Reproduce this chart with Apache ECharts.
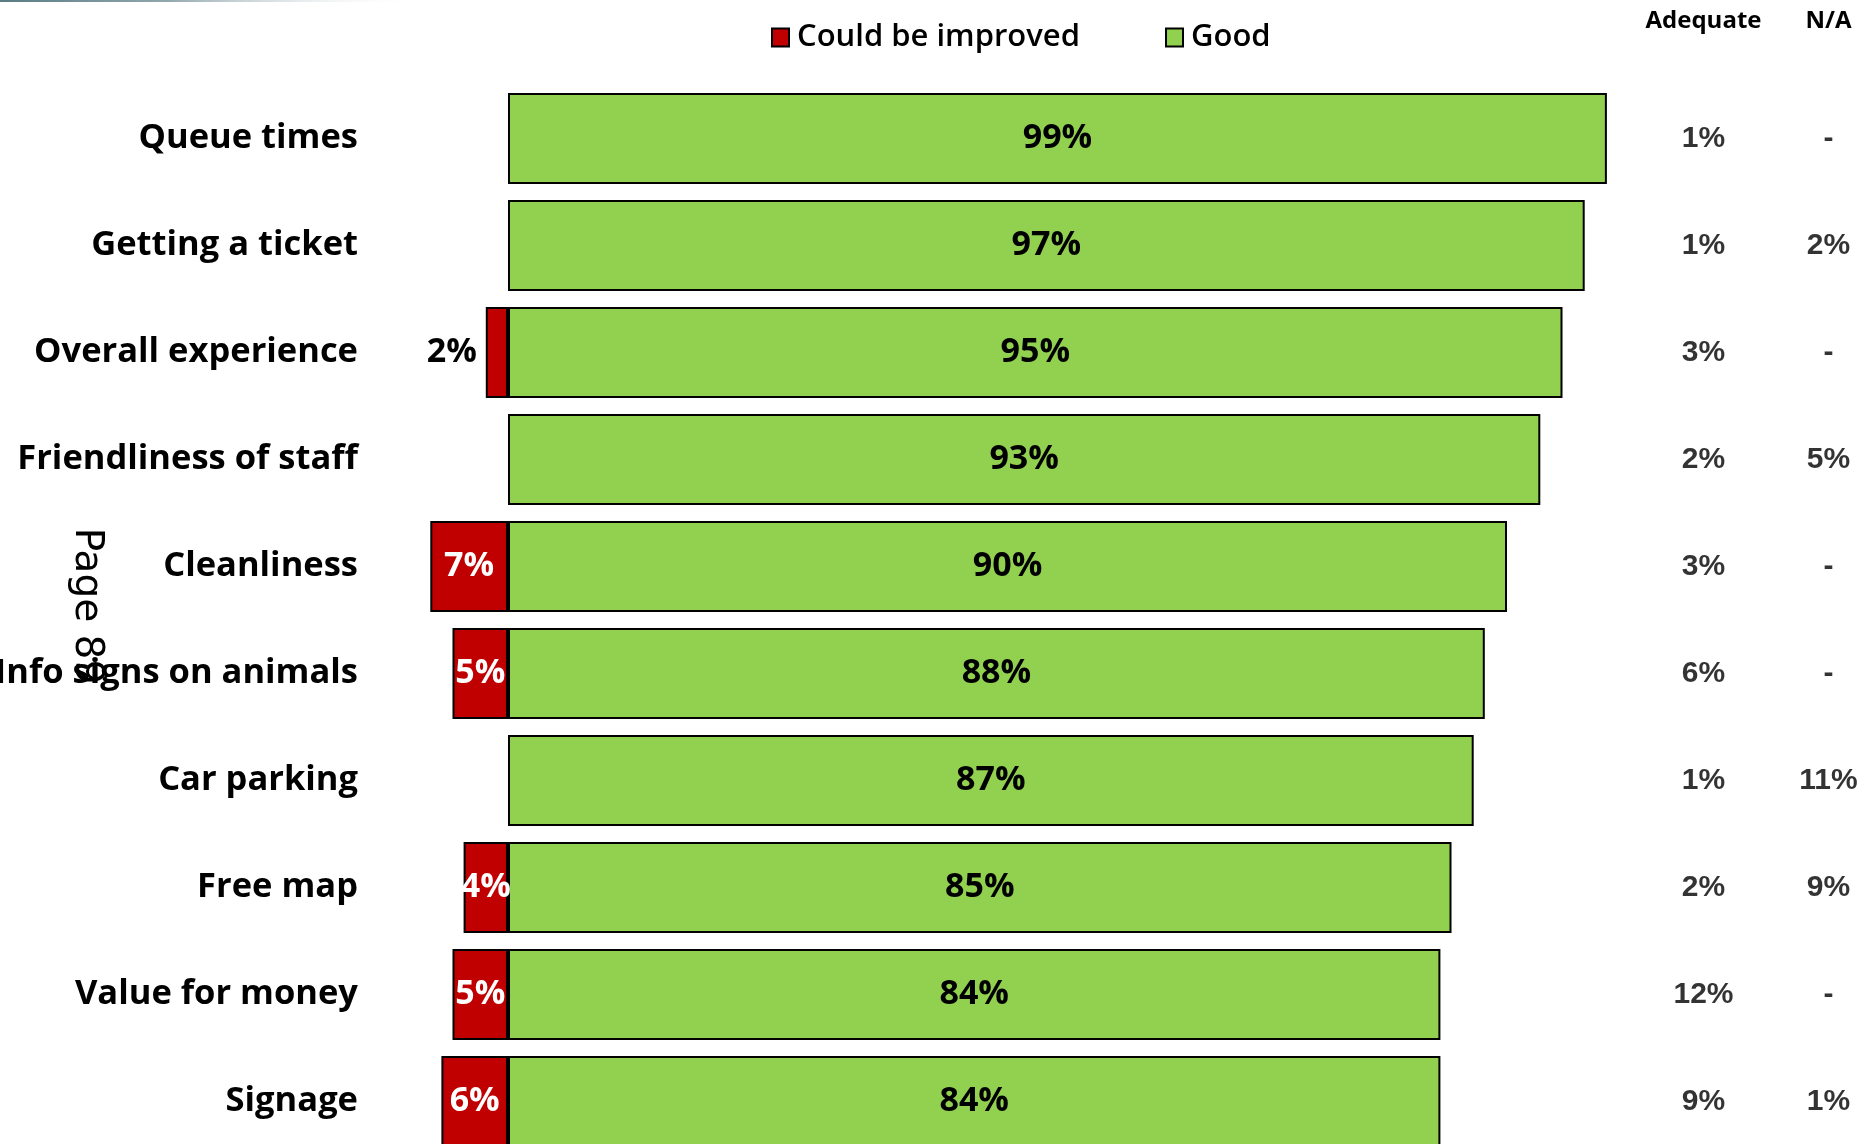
<!DOCTYPE html>
<html>
<head>
<meta charset="utf-8">
<script src="https://cdn.jsdelivr.net/npm/echarts@6/dist/echarts.min.js"></script>
<style>
  html, body { margin: 0; padding: 0; background: #ffffff; overflow: hidden; }
  /* the drawing surface runs slightly past the window so the last row is cut off at the bottom edge */
  #chart { width: 1900px; height: 1170px; }
</style>
</head>
<body>
<div id="chart"></div>
<script>
// Visitor ratings by aspect of the visit
const categories = ['Queue times', 'Getting a ticket', 'Overall experience', 'Friendliness of staff',
  'Cleanliness', 'Info signs on animals', 'Car parking', 'Free map', 'Value for money', 'Signage'];
const goodValues = [99, 97, 95, 93, 90, 88, 87, 85, 84, 84];
const improvedValues = [null, null, 2, null, 7, 5, null, 4, 5, 6];
const adequateLabels = ['1%', '1%', '3%', '2%', '3%', '6%', '1%', '2%', '12%', '9%'];
const naLabels = ['-', '2%', '-', '5%', '-', '-', '11%', '9%', '-', '1%'];
const tableColumns = ['Adequate', 'N/A'];

const RED = '#C00000';
const GREEN = '#92D050';
const FONT = '"Open Sans", "DejaVu Sans", sans-serif';
const NARROW = '"Liberation Sans Narrow", "Liberation Sans", Arial, sans-serif';

const SMALL_BAR = 3; // below this width the value sits outside the bar

const improvedData = improvedValues.map(v => {
  if (v == null) return null;
  const item = { value: -v };
  if (v < SMALL_BAR) {
    item.label = { position: 'left', distance: 9, color: '#000' };
  }
  return item;
});

const tableData = [];
adequateLabels.forEach((t, i) => tableData.push([0, i, t]));
naLabels.forEach((t, i) => tableData.push([1, i, t]));

const chart = echarts.init(document.getElementById('chart'), null, { renderer: 'canvas' });

chart.setOption({
  backgroundColor: '#ffffff',
  animation: false,
  legend: {
    data: ['Could be improved', 'Good'],
    left: 771,
    top: 22,
    padding: 0,
    itemWidth: 17,
    itemHeight: 18,
    itemGap: 85,
    icon: 'rect',
    textStyle: { fontFamily: FONT, fontSize: 31, fontWeight: 600, color: '#000', padding: [0, 0, 0, 3] },
    selectedMode: false
  },
  graphic: [
    {
      type: 'rect',
      left: 0, top: 0,
      shape: { width: 420, height: 2 },
      style: {
        fill: new echarts.graphic.LinearGradient(0, 0, 1, 0, [
          { offset: 0, color: '#5a7b84' },
          { offset: 0.4, color: '#91a7ae' },
          { offset: 1, color: 'rgba(255,255,255,0)' }
        ])
      },
      silent: true
    },
    {
      type: 'text',
      x: 86, y: 606,
      rotation: -Math.PI / 2,
      style: {
        text: 'Page 89',
        font: '39px "DejaVu Sans", sans-serif',
        fill: '#000',
        align: 'center',
        verticalAlign: 'middle'
      },
      silent: true
    }
  ],
  grid: [
    { left: 397, top: 85, width: 1221, height: 1070, containLabel: false, outerBoundsMode: 'none' },
    { left: 1641, top: 85, width: 250, height: 1070, containLabel: false, outerBoundsMode: 'none' }
  ],
  xAxis: [
    { type: 'value', gridIndex: 0, min: -10, max: 100, show: false },
    {
      type: 'category', gridIndex: 1, data: tableColumns, position: 'top',
      axisLine: { show: false }, axisTick: { show: false },
      axisLabel: { interval: 0, fontFamily: FONT, fontSize: 24, fontWeight: 700, color: '#000', margin: 52 }
    }
  ],
  yAxis: [
    {
      type: 'category', gridIndex: 0, data: categories, inverse: true,
      axisLine: { show: false }, axisTick: { show: false },
      axisLabel: { interval: 0, fontFamily: FONT, fontSize: 34.5, fontWeight: 700, color: '#000', margin: 39 }
    },
    { type: 'category', gridIndex: 1, data: categories, inverse: true, show: false }
  ],
  series: [
    {
      name: 'Could be improved',
      type: 'bar',
      stack: 'rating',
      xAxisIndex: 0, yAxisIndex: 0,
      barWidth: 91,
      data: improvedData,
      itemStyle: { color: RED, borderColor: '#000', borderWidth: 2 },
      label: {
        show: true,
        position: 'inside',
        formatter: p => Math.abs(p.value) + '%',
        fontFamily: FONT, fontSize: 34, fontWeight: 700, color: '#fff'
      }
    },
    {
      name: 'Good',
      type: 'bar',
      stack: 'rating',
      xAxisIndex: 0, yAxisIndex: 0,
      barWidth: 91,
      data: goodValues,
      itemStyle: { color: GREEN, borderColor: '#000', borderWidth: 2 },
      label: {
        show: true,
        position: 'inside',
        formatter: p => p.value + '%',
        fontFamily: FONT, fontSize: 34, fontWeight: 700, color: '#000'
      }
    },
    {
      name: 'table',
      type: 'scatter',
      xAxisIndex: 1, yAxisIndex: 1,
      symbolSize: 0,
      data: tableData,
      label: {
        show: true,
        position: 'inside',
        formatter: p => p.value[2],
        fontFamily: NARROW, fontSize: 30, fontWeight: 700, color: '#000'
      },
      silent: true
    }
  ]
});
</script>
</body>
</html>
